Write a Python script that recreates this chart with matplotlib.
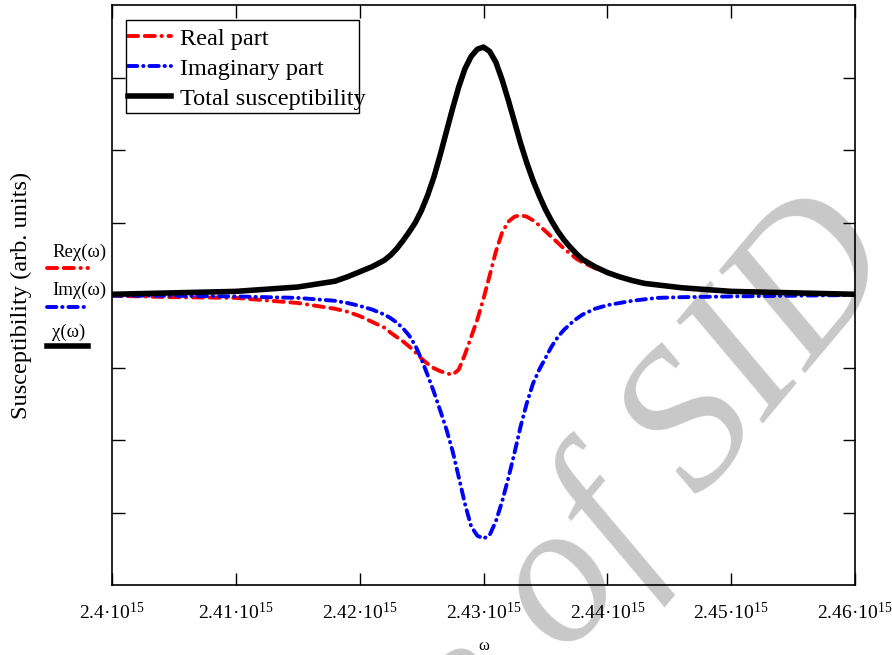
import matplotlib
matplotlib.use("Agg")
import matplotlib.pyplot as plt
from matplotlib.lines import Line2D
from matplotlib.patches import Rectangle

plt.rcParams['font.family'] = ['Liberation Serif', 'DejaVu Serif']
plt.rcParams['mathtext.fontset'] = 'custom'
plt.rcParams['mathtext.rm'] = 'Liberation Serif'
plt.rcParams['mathtext.it'] = 'Liberation Serif:italic'

# omega in units of 1e15 rad/s
omega = [2.400, 2.405, 2.410, 2.415, 2.418, 2.419, 2.420, 2.421, 2.422, 2.4225,
         2.423, 2.4235, 2.424, 2.4245, 2.425, 2.4255, 2.426, 2.4265, 2.427, 2.4275,
         2.428, 2.4285, 2.429, 2.4295, 2.430, 2.4305, 2.431, 2.4315, 2.432, 2.4325,
         2.433, 2.4335, 2.434, 2.4345, 2.435, 2.4355, 2.436, 2.4365, 2.437, 2.4375,
         2.438, 2.439, 2.440, 2.441, 2.442, 2.443, 2.444, 2.446, 2.450, 2.455,
         2.460]

real_part = [-0.01, -0.03, -0.04, -0.11, -0.19, -0.23, -0.29, -0.37, -0.45, -0.52,
             -0.58, -0.64, -0.71, -0.79, -0.88, -0.95, -1.01, -1.05, -1.08, -1.10,
             -1.03, -0.82, -0.58, -0.34, -0.05, 0.27, 0.60, 0.86, 1.01, 1.08,
             1.10, 1.08, 1.03, 0.96, 0.88, 0.80, 0.72, 0.64, 0.57, 0.50,
             0.45, 0.37, 0.31, 0.25, 0.20, 0.16, 0.14, 0.10, 0.05, 0.03,
             0.01]

imag_part = [-0.01, -0.01, -0.02, -0.04, -0.08, -0.11, -0.15, -0.20, -0.27, -0.32,
             -0.38, -0.46, -0.56, -0.70, -0.89, -1.11, -1.34, -1.59, -1.85, -2.15,
             -2.51, -2.88, -3.19, -3.32, -3.36, -3.31, -3.12, -2.85, -2.53, -2.18,
             -1.81, -1.49, -1.22, -1.03, -0.87, -0.71, -0.58, -0.48, -0.40, -0.33,
             -0.27, -0.19, -0.14, -0.11, -0.08, -0.06, -0.04, -0.03, -0.02, -0.01,
             0.00]

total = [0.01, 0.03, 0.05, 0.11, 0.19, 0.25, 0.32, 0.39, 0.48, 0.55,
         0.64, 0.75, 0.87, 1.00, 1.17, 1.38, 1.63, 1.93, 2.25, 2.57,
         2.87, 3.12, 3.29, 3.39, 3.42, 3.36, 3.21, 2.97, 2.69, 2.39,
         2.09, 1.82, 1.58, 1.37, 1.18, 1.02, 0.88, 0.76, 0.66, 0.57,
         0.49, 0.39, 0.31, 0.25, 0.20, 0.16, 0.14, 0.10, 0.05, 0.03,
         0.01]

xticks = [2.40, 2.41, 2.42, 2.43, 2.44, 2.45, 2.46]
xtick_labels = ["2.4", "2.41", "2.42", "2.43", "2.44", "2.45", "2.46"]
yticks = [-3, -2, -1, 0, 1, 2, 3]

W, H = 892, 655
fig = plt.figure(figsize=(W / 100, H / 100), dpi=100)
ax = fig.add_axes([112 / W, 1 - 585 / H, (855 - 112) / W, (585 - 5) / H])
ax.patch.set_visible(False)

# watermark
fig.text(905 / W, 1 - 268 / H, "Archive of SID", fontsize=145, style='italic',
         color='#c8c8c8', rotation=50, rotation_mode='anchor',
         ha='right', va='baseline', zorder=-1)

red_dash = (2.6, 1.7, 2.6, 1.7, 0.1, 1.7)
blue_dash = (2.4, 1.5, 0.1, 1.5)

ax.plot(omega, real_part, color='red', lw=2.8, dashes=red_dash,
        dash_capstyle='round', label='Real part')
ax.plot(omega, imag_part, color='blue', lw=2.8, dashes=blue_dash,
        dash_capstyle='round', label='Imaginary part')
ax.plot(omega, total, color='black', lw=4, label='Total susceptibility')

ax.set_xlim(2.40, 2.46)
ax.set_ylim(-4, 4)
ax.set_xticks(xticks)
ax.set_xticklabels([s + "\u00b710$^{15}$" for s in xtick_labels], fontsize=14)
ax.set_yticks(yticks)
ax.set_yticklabels([])
ax.tick_params(direction='in', length=9, width=1, top=True, right=True, pad=12)
for sp in ax.spines.values():
    sp.set_linewidth(1.2)

ax.set_xlabel("\u03c9", fontsize=12)
ax.xaxis.set_label_coords(0.5, -0.092)
ax.set_ylabel("Susceptibility (arb. units)", fontsize=17.5)
ax.yaxis.set_label_coords(-0.108, 0.5)

leg = ax.legend(loc='upper left', bbox_to_anchor=(119 / W, 1 - 19 / H),
                bbox_transform=fig.transFigure, frameon=False, fontsize=17.5,
                handlelength=1.8, handletextpad=0.35, labelspacing=0.33,
                borderpad=0.35, borderaxespad=0)
fig.patches.append(Rectangle((126 / W, 1 - 113 / H), (359 - 126) / W, 93 / H,
                             transform=fig.transFigure, fill=False,
                             edgecolor='black', lw=1))

# small key on the left
keys = [("Re\u03c7(\u03c9)", 252, 268, 'red', red_dash, 2.8),
        ("Im\u03c7(\u03c9)", 290, 307, 'blue', blue_dash, 2.8),
        ("\u03c7(\u03c9)", 332, 346, 'black', None, 4)]
for txt, ty, ly, col, dsh, lw in keys:
    fig.text(52 / W, 1 - ty / H, txt, fontsize=13.5, va='center', ha='left')
    ln = Line2D([47 / W, 88 / W], [1 - ly / H, 1 - ly / H], color=col, lw=lw,
                transform=fig.transFigure, dash_capstyle='round')
    if dsh is not None:
        ln.set_dashes(dsh)
    fig.lines.append(ln)

fig.savefig("out.png", dpi=100)
